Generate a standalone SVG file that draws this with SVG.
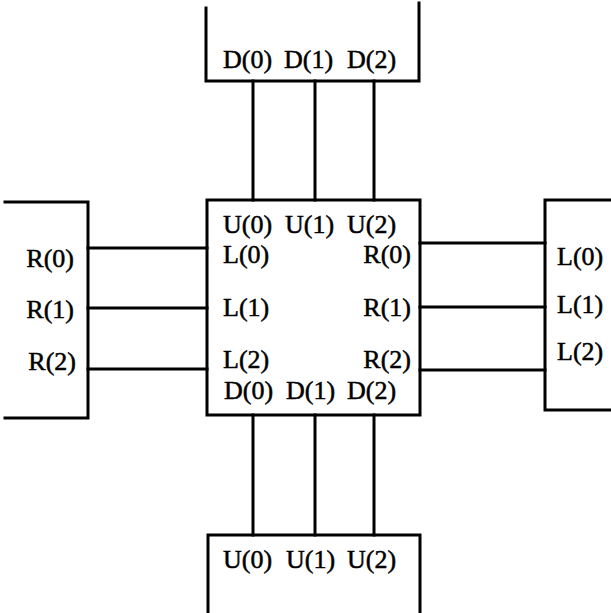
<svg xmlns="http://www.w3.org/2000/svg" width="611" height="613" viewBox="0 0 611 613">
<style>
.ln{stroke:#000;stroke-width:3;fill:none;stroke-linecap:square}
text{font-family:"Liberation Serif","Times New Roman",serif;font-size:26px;fill:#000;stroke:#000;stroke-width:0.5}
.e{text-anchor:end}
</style>
<rect width="611" height="613" fill="#fff"/>
<g id="top">
<path class="ln" d="M206,8 V81 H419 V3"/>
<text x="223" y="68">D(0)</text><text x="284" y="68">D(1)</text><text x="347" y="68">D(2)</text>
</g>
<g id="center">
<rect class="ln" x="207" y="200" width="213" height="215"/>
<text x="223" y="233">U(0)</text><text x="285" y="233">U(1)</text><text x="347" y="233">U(2)</text>
<text x="223" y="263">L(0)</text><text x="223" y="316">L(1)</text><text x="223" y="368">L(2)</text>
<text class="e" x="411" y="263">R(0)</text><text class="e" x="411" y="316">R(1)</text><text class="e" x="411" y="368">R(2)</text>
<text x="224" y="399">D(0)</text><text x="286" y="399">D(1)</text><text x="347" y="399">D(2)</text>
</g>
<g id="left">
<path class="ln" d="M5,202 H88 V418 H5"/>
<text class="e" x="74" y="267">R(0)</text><text class="e" x="74" y="318">R(1)</text><text class="e" x="76" y="370">R(2)</text>
</g>
<g id="right">
<path class="ln" d="M611,200 H545 V410 H611"/>
<text x="557" y="265">L(0)</text><text x="557" y="313">L(1)</text><text x="557" y="360">L(2)</text>
</g>
<g id="bottom">
<path class="ln" d="M208,613 V535 H420 V613"/>
<text x="223" y="568">U(0)</text><text x="286" y="568">U(1)</text><text x="347" y="568">U(2)</text>
</g>
<g id="connectors">
<path class="ln" d="M253,81 V200 M315,81 V200 M374,81 V200"/>
<path class="ln" d="M253,415 V535 M315,415 V535 M374,415 V535"/>
<path class="ln" d="M88,248 H207 M88,308 H207 M88,369 H207"/>
<path class="ln" d="M420,243 H545 M420,307 H545 M420,370 H545"/>
</g>
</svg>
